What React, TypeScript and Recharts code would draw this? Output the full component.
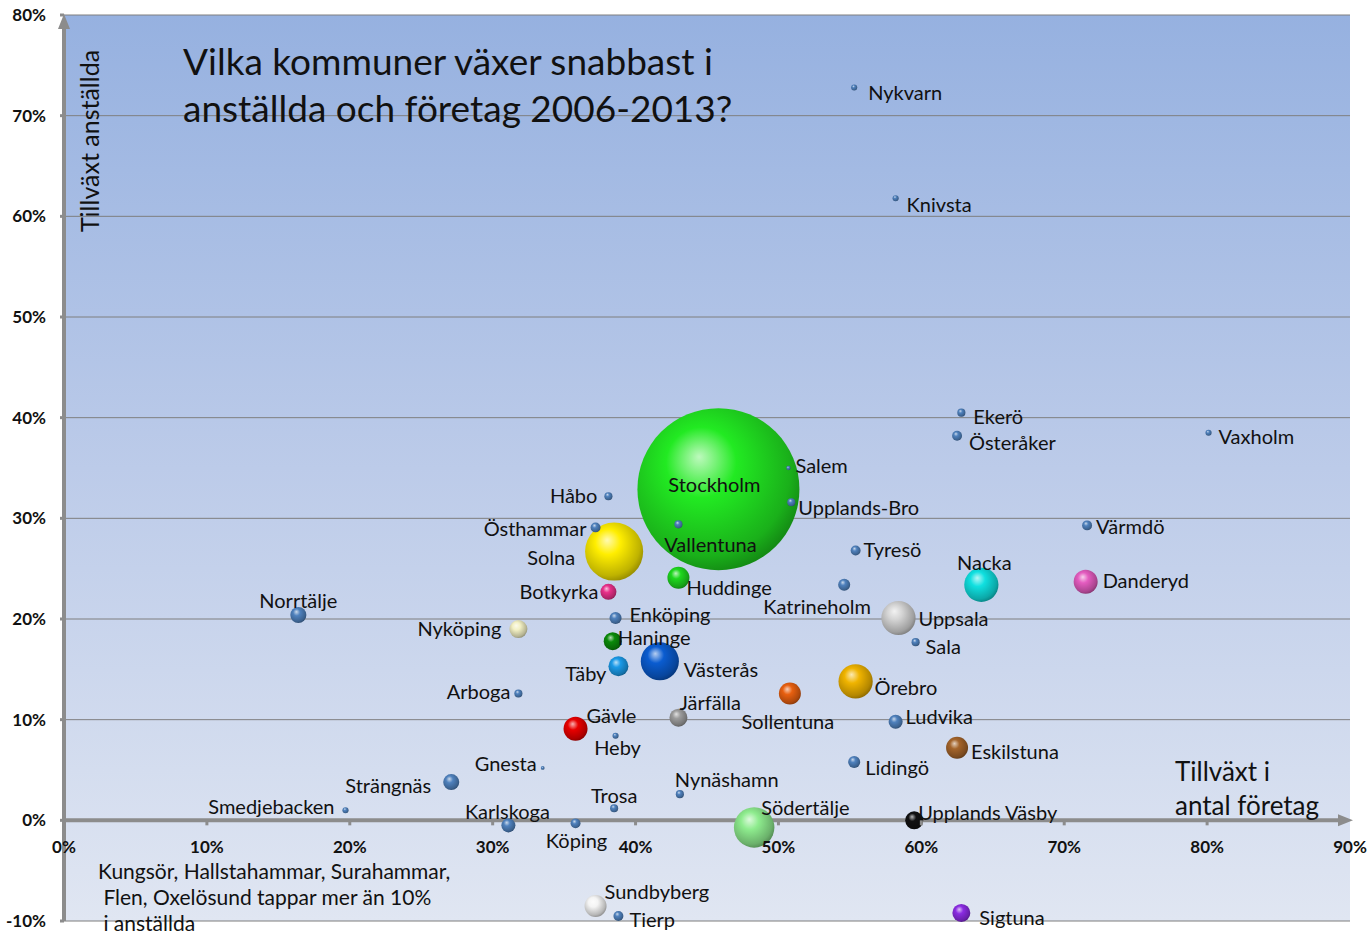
import React from "react";
import {
  ScatterChart,
  Scatter,
  XAxis,
  YAxis,
  ZAxis,
  CartesianGrid,
  ReferenceLine,
} from "recharts";

// Kommuner, growth in number of firms (x, %), growth in employees (y, %), bubble size
const kommuner = [
  "Stockholm", "Solna", "Södertälje", "Västerås", "Uppsala", "Nacka", "Örebro",
  "Gävle", "Danderyd", "Huddinge", "Sollentuna", "Eskilstuna", "Sundbyberg",
  "Täby", "Haninge", "Nyköping", "Järfälla", "Upplands Väsby", "Sigtuna",
  "Botkyrka", "Norrtälje", "Strängnäs", "Karlskoga", "Ludvika", "Katrineholm",
  "Enköping", "Lidingö", "Tyresö", "Värmdö", "Östhammar", "Österåker", "Köping",
  "Tierp", "Ekerö", "Håbo", "Vallentuna", "Upplands-Bro", "Sala", "Arboga",
  "Nynäshamn", "Trosa", "Knivsta", "Nykvarn", "Vaxholm", "Heby", "Smedjebacken",
  "Salem", "Gnesta",
];
const tillvaxtForetag = [
  45.8, 38.5, 48.3, 41.7, 58.4, 64.2, 55.4,
  35.8, 71.5, 43.0, 50.8, 62.5, 37.2,
  38.8, 38.4, 31.8, 43.0, 59.5, 62.8,
  38.1, 16.4, 27.1, 31.1, 58.2, 54.6,
  38.6, 55.3, 55.4, 71.6, 37.2, 62.5, 35.8,
  38.8, 62.8, 38.1, 43.0, 50.9, 59.6, 31.8,
  43.1, 38.5, 58.2, 55.3, 80.1, 38.6, 19.7,
  50.7, 33.5,
];
const tillvaxtAnstallda = [
  32.9, 26.7, -0.7, 15.8, 20.1, 23.4, 13.8,
  9.1, 23.7, 24.1, 12.6, 7.2, -8.5,
  15.3, 17.8, 19.0, 10.2, 0.0, -9.2,
  22.7, 20.4, 3.8, -0.5, 9.8, 23.4,
  20.1, 5.8, 26.8, 29.3, 29.1, 38.2, -0.3,
  -9.5, 40.5, 32.2, 29.4, 31.6, 17.7, 12.6,
  2.6, 1.2, 61.8, 72.8, 38.5, 8.4, 1.0,
  35.0, 5.2,
];
const storlek = [
  560, 72, 35, 31, 25, 25, 25,
  12.3, 12.3, 10.3, 10.3, 10.3, 10.3,
  8.5, 6.9, 6.9, 6.9, 6.9, 6.9,
  5.5, 5.5, 5.5, 4.2, 4.2, 3.1,
  3.1, 3.1, 2.1, 2.1, 2.1, 2.1, 2.1,
  2.1, 1.4, 1.4, 1.4, 1.4, 1.4, 1.4,
  1.4, 1.4, 0.8, 0.8, 0.8, 0.8, 0.8,
  0.4, 0.3,
];
const xTicks = [0, 10, 20, 30, 40, 50, 60, 70, 80, 90];
const yTicks = [-10, 0, 10, 20, 30, 40, 50, 60, 70, 80];

const data = kommuner.map((name, i) => ({
  name,
  x: tillvaxtForetag[i],
  y: tillvaxtAnstallda[i],
  z: storlek[i],
}));

const STEEL = "#4f81bd";
const colors: Record<string, string> = {
  Stockholm: "#22ea22",
  Solna: "#ffee00",
  Huddinge: "#1ed81e",
  Botkyrka: "#e8308a",
  Nacka: "#10e0e0",
  Danderyd: "#e45cc0",
  Uppsala: "#d4d4d4",
  Nyköping: "#f2f0c4",
  Haninge: "#0a8a0a",
  Västerås: "#0a5cd0",
  Täby: "#1a9ae8",
  Örebro: "#f0b400",
  Sollentuna: "#e86010",
  Järfälla: "#9c9c9c",
  Gävle: "#e80000",
  Eskilstuna: "#a4642a",
  Södertälje: "#8eec8e",
  "Upplands Väsby": "#111111",
  Sundbyberg: "#f4f4f4",
  Sigtuna: "#8a2be2",
};

// label placement: [anchor, dx, dy]
const labelPos: Record<string, [string, number, number]> = {
  Nykvarn: ["start", 14, 5],
  Knivsta: ["start", 11, 6],
  Ekerö: ["start", 12, 3],
  Österåker: ["start", 12, 6],
  Vaxholm: ["start", 10, 3],
  Salem: ["start", 7, -3],
  Stockholm: ["middle", -4, -5],
  "Upplands-Bro": ["start", 7, 5],
  Håbo: ["end", -11, -1],
  Östhammar: ["end", -9, 1],
  Vallentuna: ["middle", 32, 20],
  Solna: ["end", -39, 5],
  Tyresö: ["start", 8, -2],
  Värmdö: ["start", 9, 1],
  Nacka: ["middle", 3, -23],
  Danderyd: ["start", 17, -2],
  Huddinge: ["start", 8, 9],
  Katrineholm: ["middle", -27, 21],
  Botkyrka: ["end", -10, -1],
  Uppsala: ["start", 20, 0],
  Enköping: ["start", 14, -4],
  Norrtälje: ["middle", 0, -15],
  Nyköping: ["end", -17, -1],
  Haninge: ["start", 5, -4],
  Sala: ["start", 10, 4],
  Västerås: ["start", 24, 8],
  Täby: ["end", -12, 7],
  Örebro: ["start", 19, 6],
  Arboga: ["end", -8, -2],
  Sollentuna: ["middle", -2, 28],
  Järfälla: ["start", 1, -16],
  Ludvika: ["start", 10, -6],
  Gävle: ["start", 11, -14],
  Heby: ["middle", 2, 11],
  Eskilstuna: ["start", 14, 3],
  Lidingö: ["start", 11, 5],
  Gnesta: ["end", -6, -5],
  Strängnäs: ["end", -20, 3],
  Nynäshamn: ["start", -5, -15],
  Smedjebacken: ["end", -11, -4],
  Trosa: ["middle", 0, -13],
  Karlskoga: ["middle", -1, -14],
  Köping: ["middle", 1, 17],
  Södertälje: ["start", 7, -20],
  "Upplands Väsby": ["start", 4, -8],
  Sundbyberg: ["start", 9, -15],
  Tierp: ["start", 11, 3],
  Sigtuna: ["start", 18, 4],
};

const W = 1370;
const H = 936;
const TOP = 15;
const LEFT = 64;
const PLOT_W = 1286;
const PLOT_H = 906;
const ZERO_Y = TOP + (PLOT_H * 80) / 90;
const FONT = "Lato, 'Open Sans', sans-serif";
const AXIS_GRAY = "#8c8c8c";

const mix = (hex: string, target: number, t: number) => {
  const n = parseInt(hex.slice(1), 16);
  const c = [(n >> 16) & 255, (n >> 8) & 255, n & 255].map((v) =>
    Math.round(v + (target - v) * t)
  );
  return `rgb(${c[0]},${c[1]},${c[2]})`;
};

const Bubble = (props: any) => {
  const { cx, cy, payload } = props;
  const r = props.width ? props.width / 2 : Math.sqrt((props.size || 0) / Math.PI);
  const color = colors[payload.name] || STEEL;
  const id = "g" + kommuner.indexOf(payload.name);
  return (
    <g>
      <defs>
        <radialGradient id={id} cx="0.42" cy="0.4" r="0.62" fx="0.38" fy="0.3">
          <stop offset="0%" stopColor={mix(color, 255, 0.7)} />
          <stop offset="35%" stopColor={color} />
          <stop offset="85%" stopColor={mix(color, 0, 0.25)} />
          <stop offset="100%" stopColor={mix(color, 0, 0.4)} />
        </radialGradient>
      </defs>
      <circle cx={cx} cy={cy} r={Math.max(r, 1.5)} fill={`url(#${id})`} />
    </g>
  );
};

const Label = (props: any) => {
  const { cx, cy, payload } = props;
  const p = labelPos[payload.name] || ["start", 8, 0];
  return (
    <text
      x={cx + p[1]}
      y={cy + p[2]}
      textAnchor={p[0] as any}
      dominantBaseline="central"
      fontFamily={FONT}
      fontSize={20}
      fill="#111"
    >
      {payload.name}
    </text>
  );
};

const XTick = (props: any) => {
  const { x, payload } = props;
  return (
    <g>
      {payload.value > 0 && payload.value < 90 && (
        <line x1={x} x2={x} y1={ZERO_Y} y2={ZERO_Y + 5} stroke={AXIS_GRAY} strokeWidth={3} />
      )}
      <text
        x={x}
        y={ZERO_Y + 26}
        textAnchor="middle"
        dominantBaseline="central"
        fontFamily={FONT}
        fontWeight={700}
        fontSize={17}
        fill="#111"
      >
        {payload.value}%
      </text>
    </g>
  );
};

const YArrow = (props: any) => {
  const { x1, y1, y2 } = props;
  const top = Math.min(y1, y2);
  const bottom = Math.max(y1, y2);
  return (
    <g>
      <line x1={x1} x2={x1} y1={bottom} y2={top + 8} stroke={AXIS_GRAY} strokeWidth={4} />
      <path d={`M${x1 - 6},${top + 14} L${x1},${top - 1} L${x1 + 6},${top + 14} Z`} fill={AXIS_GRAY} />
    </g>
  );
};

const XArrow = (props: any) => {
  const { x1, x2, y1 } = props;
  const right = Math.max(x1, x2) + 2;
  const left = Math.min(x1, x2);
  return (
    <g>
      <line x1={left} x2={right - 8} y1={y1} y2={y1} stroke={AXIS_GRAY} strokeWidth={4} />
      <path d={`M${right - 14},${y1 - 6} L${right + 1},${y1} L${right - 14},${y1 + 6} Z`} fill={AXIS_GRAY} />
    </g>
  );
};

const sorted = [...data].sort((a, b) => b.z - a.z);

export default function App() {
  return (
    <div style={{ position: "absolute", left: 0, top: 0, width: W, height: H, background: "#fff", overflow: "hidden" }}>
      <div
        style={{
          position: "absolute",
          left: LEFT,
          top: TOP,
          width: PLOT_W,
          height: PLOT_H,
          background: "linear-gradient(to bottom, #96b1e0 0%, #bccbe9 50%, #e0e6f2 100%)",
        }}
      />
      <div style={{ position: "absolute", left: 0, top: 0 }}>
        <ScatterChart width={W} height={H} margin={{ top: TOP, right: 20, bottom: 0, left: 0 }}>
          <CartesianGrid vertical={false} stroke="#7f7f7f" strokeWidth={1} fill="none" />
          <XAxis
            type="number"
            dataKey="x"
            domain={[0, 90]}
            ticks={xTicks}
            height={15}
            axisLine={false}
            tickLine={false}
            tick={<XTick />}
            interval={0}
          />
          <YAxis
            type="number"
            dataKey="y"
            domain={[-10, 80]}
            ticks={yTicks}
            width={LEFT}
            axisLine={false}
            tickSize={4}
            tickLine={{ stroke: AXIS_GRAY, strokeWidth: 3 }}
            tickMargin={14}
            tickFormatter={(v: number) => `${v}%`}
            tick={{ fontFamily: FONT, fontWeight: 700, fontSize: 17, fill: "#111" }}
            interval={0}
          />
          <ZAxis type="number" dataKey="z" domain={[0, 560]} range={[0, Math.PI * 81 * 81]} />
          <ReferenceLine y={0} shape={<XArrow />} />
          <ReferenceLine x={0} shape={<YArrow />} />
          <Scatter data={sorted} shape={<Bubble />} isAnimationActive={false} />
          <Scatter data={sorted} shape={<Label />} isAnimationActive={false} />
        </ScatterChart>
      </div>
      <div
        style={{
          position: "absolute",
          left: 183,
          top: 37,
          fontFamily: FONT,
          fontSize: 37,
          lineHeight: "47px",
          color: "#111",
          whiteSpace: "nowrap",
        }}
      >
        Vilka kommuner växer snabbast i
        <br />
        anställda och företag 2006-2013?
      </div>
      <div
        style={{
          position: "absolute",
          left: 89,
          top: 141,
          transform: "translate(-50%, -50%) rotate(-90deg)",
          fontFamily: FONT,
          fontSize: 25,
          color: "#111",
          whiteSpace: "nowrap",
        }}
      >
        Tillväxt anställda
      </div>
      <div
        style={{
          position: "absolute",
          left: 1175,
          top: 754,
          fontFamily: FONT,
          fontSize: 26,
          lineHeight: "34px",
          color: "#111",
          whiteSpace: "nowrap",
        }}
      >
        Tillväxt i
        <br />
        antal företag
      </div>
      <div
        style={{
          position: "absolute",
          left: 98,
          top: 858,
          fontFamily: FONT,
          fontSize: 21,
          lineHeight: "26px",
          color: "#111",
          whiteSpace: "nowrap",
        }}
      >
        Kungsör, Hallstahammar, Surahammar,
        <br />
        &nbsp;Flen, Oxelösund tappar mer än 10%
        <br />
        &nbsp;i anställda
      </div>
    </div>
  );
}
